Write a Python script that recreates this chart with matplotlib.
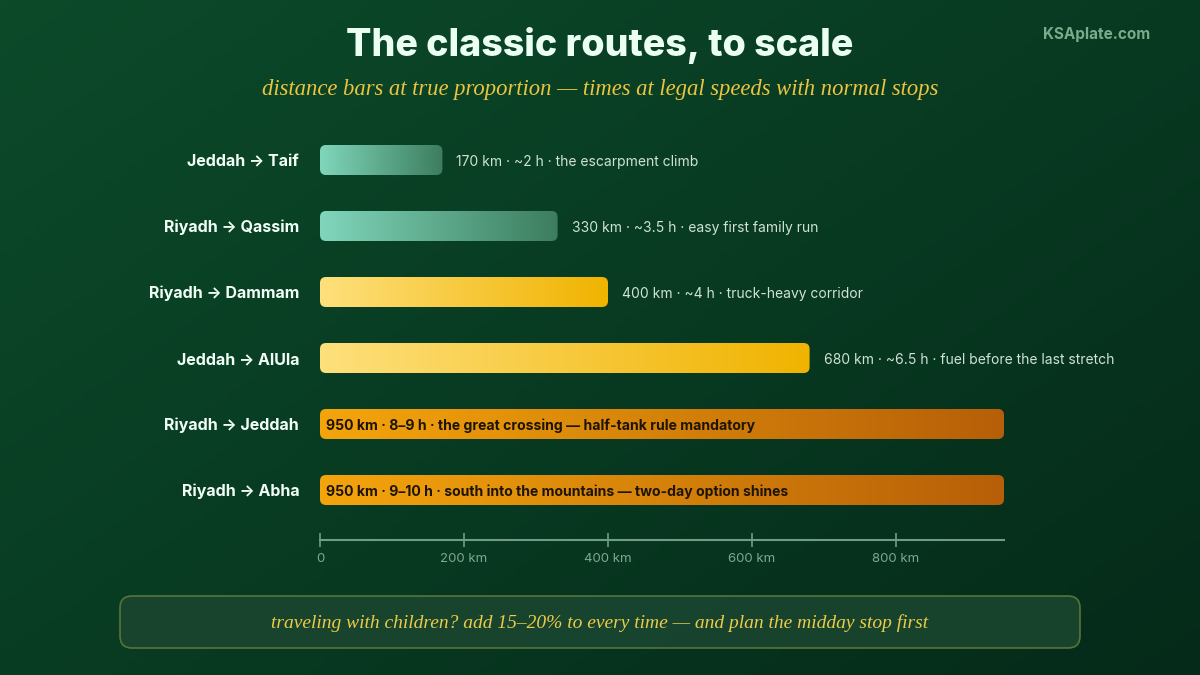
import numpy as np
import matplotlib
matplotlib.use('Agg')
import matplotlib.pyplot as plt
from matplotlib.colors import LinearSegmentedColormap
from matplotlib.patches import FancyBboxPatch

plt.rcParams['font.family'] = ['Inter', 'DejaVu Sans']

# данные
routes = ['Jeddah → Taif', 'Riyadh → Qassim', 'Riyadh → Dammam',
          'Jeddah → AlUla', 'Riyadh → Jeddah', 'Riyadh → Abha']
distances = [170, 330, 400, 680, 950, 950]
notes = ['170 km · ~2 h · the escarpment climb',
         '330 km · ~3.5 h · easy first family run',
         '400 km · ~4 h · truck-heavy corridor',
         '680 km · ~6.5 h · fuel before the last stretch',
         '950 km · 8–9 h · the great crossing — half-tank rule mandatory',
         '950 km · 9–10 h · south into the mountains — two-day option shines']
tiers = ['green', 'green', 'gold', 'gold', 'orange', 'orange']
tick_values = [0, 200, 400, 600, 800]
tick_labels = ['0', '200 km', '400 km', '600 km', '800 km']

tier_colors = {
    'green': ('#80d6bb', '#3c7d5e'),
    'gold': ('#fee07c', '#f0b300'),
    'orange': ('#f4a50c', '#b65f08'),
}

W, H = 1200, 675
fig = plt.figure(figsize=(12, 6.75), dpi=100)

# фон с диагональным градиентом
bg = fig.add_axes([0, 0, 1, 1])
bg.set_axis_off()
yy, xx = np.mgrid[0:1:200j, 0:1:200j]
t = (xx * 0.55 + yy * 0.45)
bg_cmap = LinearSegmentedColormap.from_list('bg', ['#0c4a2a', '#083b22', '#052a19'])
bg.imshow(t, cmap=bg_cmap, extent=(0, 1, 0, 1), aspect='auto', origin='upper')
bg.set_xlim(0, 1)
bg.set_ylim(0, 1)

# основная ось: 0..950 км -> 320..1004 px
px_per_km = 684 / 950
row_px = 66
top_px = 160 - row_px * 0.5
ylim_bottom = 6.2
ax_h_px = (ylim_bottom + 0.5) * row_px
ax = fig.add_axes([320 / W, 1 - (top_px + ax_h_px) / H, 684 / W, ax_h_px / H])
ax.set_facecolor('none')
ax.set_xlim(0, 950)
ax.set_ylim(ylim_bottom, -0.5)

bar_h = 30 / row_px
r_km = 6 / px_per_km
aspect = (6 / row_px) / r_km
grad = np.linspace(0, 1, 256).reshape(1, -1)
nudge = 1.5 / row_px  # текст чуть ниже центра, как в оригинале

for i, (d, note, tier) in enumerate(zip(distances, notes, tiers)):
    c0, c1 = tier_colors[tier]
    cmap = LinearSegmentedColormap.from_list(tier, [c0, c1])
    box = FancyBboxPatch((0, i - bar_h / 2), d, bar_h,
                         boxstyle=f'round,pad=0,rounding_size={r_km}',
                         mutation_aspect=aspect, facecolor='none',
                         edgecolor='none', transform=ax.transData)
    ax.add_patch(box)
    im = ax.imshow(grad, cmap=cmap, extent=(0, d, i + bar_h / 2, i - bar_h / 2),
                   aspect='auto', interpolation='bilinear', zorder=2)
    im.set_clip_path(box)
    if tier == 'orange':
        ax.text(6 / px_per_km, i + nudge, note, ha='left', va='center',
                fontsize=10.1, fontweight='bold', color='#1d1405', zorder=3)
    else:
        ax.text(d + 14 / px_per_km, i + nudge, note, ha='left', va='center',
                fontsize=10, color='#cfe2d6', clip_on=False, zorder=3)

ax.set_yticks(range(len(routes)))
ax.set_yticklabels(routes, fontsize=11.5, fontweight='bold', color='#f2fff6')
ax.tick_params(axis='y', length=0, pad=15)

for s in ['top', 'right', 'left']:
    ax.spines[s].set_visible(False)
axis_y = (540 - 160) / row_px
ax.spines['bottom'].set_position(('data', axis_y))
ax.spines['bottom'].set_color('#6f9c82')
ax.spines['bottom'].set_linewidth(1.5)
ax.set_xticks(tick_values)
ax.set_xticklabels(tick_labels, fontsize=9.5, color='#7fa890')
ax.tick_params(axis='x', direction='inout', length=10, width=1.2,
               colors='#6f9c82', labelcolor='#7fa890', pad=4)

# заголовки
fig.text(600 / W, 1 - 45 / H, 'The classic routes, to scale', ha='center',
         va='center', fontsize=27, fontweight='heavy', color='#ebfff2')
fig.text(600 / W, 1 - 89 / H,
         'distance bars at true proportion — times at legal speeds with normal stops',
         ha='center', va='center', fontsize=16.3, style='italic',
         family=['Liberation Serif', 'DejaVu Serif'], color='#ecc440')
fig.text(1150 / W, 1 - 34 / H, 'KSAplate.com', ha='right', va='center',
         fontsize=11, fontweight='bold', color='#7aab8c')

# нижняя плашка
note_box = FancyBboxPatch((120 / W, 1 - 648 / H), 960 / W, 52 / H,
                          boxstyle='round,pad=0,rounding_size=0.01',
                          mutation_aspect=W / H,
                          transform=fig.transFigure, facecolor='#1a4630',
                          edgecolor='#5f7a3a', linewidth=1.2, alpha=0.9)
fig.patches.append(note_box)
fig.text(600 / W, 1 - 623 / H,
         'traveling with children? add 15–20% to every time — and plan the midday stop first',
         ha='center', va='center', fontsize=14, style='italic',
         family=['Liberation Serif', 'DejaVu Serif'], color='#eccb4a')

fig.savefig('out.png', dpi=100)
